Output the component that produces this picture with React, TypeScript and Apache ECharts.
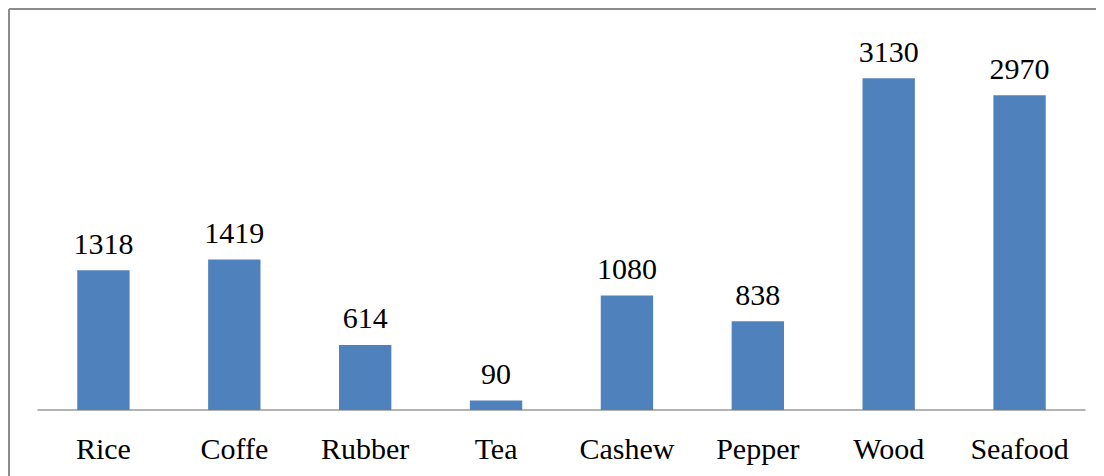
import React, { useEffect, useRef } from "react";
import * as echarts from "echarts";

const categories = ["Rice", "Coffe", "Rubber", "Tea", "Cashew", "Pepper", "Wood", "Seafood"];
const values = [1318, 1419, 614, 90, 1080, 838, 3130, 2970];

const SERIF = "Liberation Serif";
const FS = 30;
const FONT = FS + "px 'Liberation Serif', 'Times New Roman', serif";

export default function App() {
  const ref = useRef<HTMLDivElement>(null);
  useEffect(() => {
    if (!ref.current) return;
    const chart = echarts.init(ref.current, undefined, { renderer: "svg" });
    const border = [
      { type: "line", shape: { x1: 1, y1: 1, x2: 1096, y2: 1 }, style: { stroke: "#8c8c8c", lineWidth: 2 } },
      { type: "line", shape: { x1: 1, y1: 1, x2: 1, y2: 468 }, style: { stroke: "#8c8c8c", lineWidth: 2 } },
    ];
    chart.setOption({
      animation: false,
      backgroundColor: "#ffffff",
      graphic: border,
      grid: { left: 30, right: 19, top: 31, bottom: 66 },
      xAxis: {
        type: "category",
        data: categories,
        axisLine: { show: true, lineStyle: { color: "#9a9a9a", width: 1.5 } },
        axisTick: { show: false },
        axisLabel: { show: false },
      },
      yAxis: {
        type: "value",
        min: 0,
        max: 3500,
        show: false,
        splitLine: { show: false },
      },
      series: [
        {
          type: "bar",
          data: values,
          barWidth: "40%",
          itemStyle: { color: "#4f81bd" },
        },
      ],
    });
    const texts: any[] = [];
    categories.forEach((c, i) => {
      const base = chart.convertToPixel({ seriesIndex: 0 }, [i, 0]) as number[];
      const top = chart.convertToPixel({ seriesIndex: 0 }, [i, values[i]]) as number[];
      texts.push({
        type: "text",
        x: base[0],
        y: base[1] + 38,
        silent: true,
        style: {
          text: c,
          font: FONT,
          fontFamily: SERIF,
          fontSize: FS,
          fill: "#000",
          align: "center",
          verticalAlign: "middle",
        },
      });
      texts.push({
        type: "text",
        x: top[0],
        y: top[1] - 27,
        silent: true,
        style: {
          text: String(values[i]),
          font: FONT,
          fontFamily: SERIF,
          fontSize: FS,
          fill: "#000",
          align: "center",
          verticalAlign: "middle",
        },
      });
    });
    chart.setOption({ graphic: [...border, ...texts] });
    return () => chart.dispose();
  }, []);
  return <div ref={ref} style={{ width: 1096, height: 468 }} />;
}
